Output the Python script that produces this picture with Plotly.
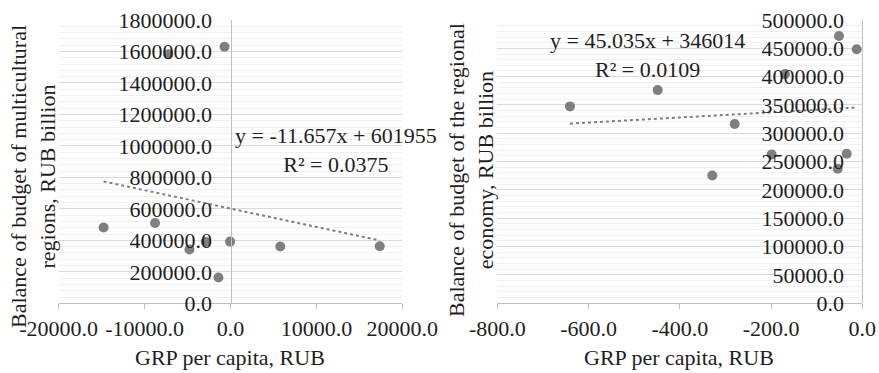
import plotly.graph_objects as go

# ---- Data: left panel (multicultural regions) ----
left_x = [-14773, -8780, -7230, -4780, -2880, -1400, -700, -50, 5795, 17373]
left_y = [481400, 510700, 1581700, 341500, 390000, 163400, 1630000, 392000, 360600, 362500]
left_slope = -11.657
left_intercept = 601955
left_eq = "y = -11.657x + 601955<br>R² = 0.0375"

# ---- Data: right panel (regional economy) ----
right_x = [-640.7, -448.5, -328.8, -279.7, -198.6, -169.4, -51.1, -53.9, -34.2, -12.3]
right_y = [347500, 376300, 225600, 316500, 262600, 404500, 471800, 237400, 263800, 448400]
right_slope = 45.035
right_intercept = 346014
right_eq = "y = 45.035x + 346014<br>R² = 0.0109"

# ---- Tick labels ----
left_xticks = [-20000, -10000, 0, 10000, 20000]
left_xticktext = ["-20000.0", "-10000.0", "0.0", "10000.0", "20000.0"]
right_xticks = [-800, -600, -400, -200, 0]
right_xticktext = ["-800.0", "-600.0", "-400.0", "-200.0", "0.0"]

left_ytitle = "Balance of budget of multicultural<br>regions, RUB billion"
right_ytitle = "Balance of budget of the regional<br>economy, RUB billion"
xtitle = "GRP per capita, RUB"

W, H = 879, 373
FONT = "Liberation Serif"
FS = 22
TXT = "#1e1e1e"
MARK = "#7f7f7f"
AXC = "#bfbfbf"
GRID = "#d9d9d9"
MINOR = "#f0f0f0"

def px(x):
    return x / W

def py(y):
    return (H - y) / H

fig = go.Figure()

# Left scatter
fig.add_trace(go.Scatter(x=left_x, y=left_y, mode="markers",
                         marker=dict(color=MARK, size=10),
                         xaxis="x", yaxis="y", showlegend=False))
lx0, lx1 = min(left_x), max(left_x)
fig.add_trace(go.Scatter(x=[lx0, lx1],
                         y=[left_slope * lx0 + left_intercept, left_slope * lx1 + left_intercept],
                         mode="lines", line=dict(color=MARK, width=2, dash="dot"),
                         xaxis="x", yaxis="y", showlegend=False))

# Right scatter
fig.add_trace(go.Scatter(x=right_x, y=right_y, mode="markers",
                         marker=dict(color=MARK, size=10),
                         xaxis="x2", yaxis="y2", showlegend=False))
rx0, rx1 = min(right_x), max(right_x)
fig.add_trace(go.Scatter(x=[rx0, rx1],
                         y=[right_slope * rx0 + right_intercept, right_slope * rx1 + right_intercept],
                         mode="lines", line=dict(color=MARK, width=2, dash="dot"),
                         xaxis="x2", yaxis="y2", showlegend=False))

ydom = [py(303.3), py(20)]
left_dom = [px(58.7), px(402.3)]
right_dom = [px(497.3), px(862.3)]

common_x = dict(showgrid=False, zeroline=False, showline=True, linecolor=AXC, linewidth=1,
                ticks="outside", ticklen=5, tickcolor=AXC, automargin=False,
                tickfont=dict(family=FONT, size=FS, color=TXT), tickmode="array")
common_y = dict(showgrid=True, gridcolor=GRID, gridwidth=1, zeroline=False,
                showline=True, linecolor=AXC, linewidth=1, ticks="", automargin=False,
                tickfont=dict(family=FONT, size=FS, color=TXT), tickformat=".1f",
                anchor="free", ticklabelstandoff=14, tick0=0)

fig.update_layout(
    width=W, height=H,
    margin=dict(l=0, r=0, t=0, b=0),
    paper_bgcolor="white", plot_bgcolor="white",
    font=dict(family=FONT, size=FS, color=TXT),
    xaxis=dict(domain=left_dom, range=[-20000, 20000], anchor="y",
               tickvals=left_xticks, ticktext=left_xticktext, **common_x),
    yaxis=dict(domain=ydom, range=[0, 1800000], dtick=200000,
               position=px(230.5),
               minor=dict(dtick=40000, tick0=0, showgrid=True, gridcolor=MINOR, ticks=""),
               **common_y),
    xaxis2=dict(domain=right_dom, range=[-800, 0], anchor="y2",
                tickvals=right_xticks, ticktext=right_xticktext, **common_x),
    yaxis2=dict(domain=ydom, range=[0, 500000], dtick=50000,
                position=px(862.3),
                minor=dict(dtick=10000, tick0=0, showgrid=True, gridcolor=MINOR, ticks=""),
                **common_y),
)

ann_font = dict(family=FONT, size=FS, color=TXT)
fig.add_annotation(text=left_eq, x=px(336), y=py(150), xref="paper", yref="paper",
                   showarrow=False, xanchor="center", yanchor="middle", align="center",
                   font=ann_font)
fig.add_annotation(text=right_eq, x=px(647), y=py(55), xref="paper", yref="paper",
                   showarrow=False, xanchor="center", yanchor="middle", align="center",
                   font=ann_font)
fig.add_annotation(text=left_ytitle, x=px(33), y=py(177), xref="paper", yref="paper",
                   showarrow=False, xanchor="center", yanchor="middle", align="center",
                   textangle=-90, font=ann_font)
fig.add_annotation(text=right_ytitle, x=px(471), y=py(170), xref="paper", yref="paper",
                   showarrow=False, xanchor="center", yanchor="middle", align="center",
                   textangle=-90, font=ann_font)
fig.add_annotation(text=xtitle, x=px(230), y=py(357), xref="paper", yref="paper",
                   showarrow=False, xanchor="center", yanchor="middle", font=ann_font)
fig.add_annotation(text=xtitle, x=px(679), y=py(357), xref="paper", yref="paper",
                   showarrow=False, xanchor="center", yanchor="middle", font=ann_font)

fig.write_html("out.html", config={"displayModeBar": False},
               post_script="document.body.style.margin='0';document.body.style.overflow='hidden';")
